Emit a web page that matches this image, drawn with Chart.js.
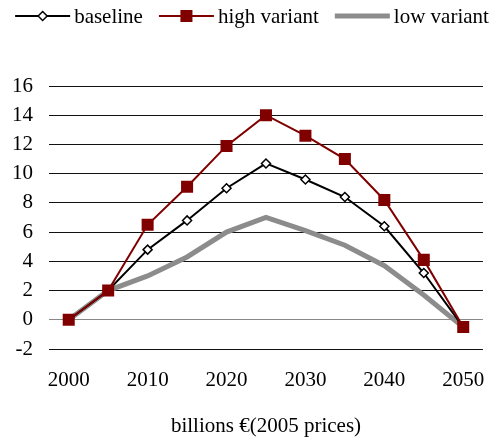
<!DOCTYPE html>
<html>
<head>
<title>Scenarios</title>
<script src="https://cdn.jsdelivr.net/npm/chart.js@4.4.0/dist/chart.umd.min.js"></script>
<style>
  html, body { margin: 0; padding: 0; background: #fff; }
  .wrap { width: 504px; height: 441px; }
</style>
</head>
<body>
<div class="wrap"><canvas id="chart" width="504" height="441"></canvas></div>
<script>
const years = ['2000', '2005', '2010', '2015', '2020', '2025', '2030', '2035', '2040', '2045', '2050'];
const baseline = [0, 2, 4.8, 6.8, 9.0, 10.7, 9.6, 8.4, 6.4, 3.2, -0.5];
const highVariant = [0, 2, 6.5, 9.1, 11.9, 14.0, 12.6, 11.0, 8.2, 4.1, -0.5];
const lowVariant = [0, 2, 3.0, 4.3, 6.0, 7.0, 6.1, 5.1, 3.7, 1.7, -0.5];
const yTicks = [-2, 0, 2, 4, 6, 8, 10, 12, 14, 16];
const axisTitle = 'billions €(2005 prices)';

const FONT = '"Liberation Serif", "Times New Roman", serif';
const FSIZE = 21;

// legend drawn as line + marker, like the spreadsheet original
const lineLegend = {
    id: 'lineLegend',
    afterDraw(chart) {
        const ctx = chart.ctx;
        const sets = chart.data.datasets;
        const swatch = 55, gap = 4, spacing = 16, y = 16;
        ctx.save();
        ctx.font = FSIZE + 'px ' + FONT;
        let total = 0;
        sets.forEach((ds, i) => {
            total += swatch + gap + ctx.measureText(ds.label).width + (i ? spacing : 0);
        });
        let x = (chart.width - total) / 2;
        sets.forEach(ds => {
            ctx.strokeStyle = ds.borderColor;
            ctx.lineWidth = ds.borderWidth;
            ctx.beginPath();
            ctx.moveTo(x, y);
            ctx.lineTo(x + swatch, y);
            ctx.stroke();
            const cx = x + swatch / 2;
            if (ds.pointStyle === 'rect' && ds.pointRadius > 0) {
                const s = ds.pointRadius * Math.SQRT1_2;
                ctx.fillStyle = ds.pointBackgroundColor;
                ctx.fillRect(cx - s, y - s, 2 * s, 2 * s);
            } else if (ds.pointStyle === 'rectRot' && ds.pointRadius > 0) {
                const r = ds.pointRadius;
                ctx.beginPath();
                ctx.moveTo(cx, y - r);
                ctx.lineTo(cx + r, y);
                ctx.lineTo(cx, y + r);
                ctx.lineTo(cx - r, y);
                ctx.closePath();
                ctx.fillStyle = ds.pointBackgroundColor;
                ctx.fill();
                ctx.lineWidth = ds.pointBorderWidth;
                ctx.strokeStyle = ds.pointBorderColor;
                ctx.stroke();
            }
            ctx.fillStyle = '#000';
            ctx.textBaseline = 'middle';
            ctx.textAlign = 'left';
            ctx.fillText(ds.label, x + swatch + gap, y + 1);
            x += swatch + gap + ctx.measureText(ds.label).width + spacing;
        });
        ctx.restore();
    }
};

new Chart(document.getElementById('chart'), {
    type: 'line',
    data: {
        labels: years,
        datasets: [
            {
                label: 'baseline',
                data: baseline,
                borderColor: '#000',
                borderWidth: 2,
                pointStyle: 'rectRot',
                pointRadius: 4.5,
                pointBackgroundColor: '#fff',
                pointBorderColor: '#000',
                pointBorderWidth: 1.5,
                tension: 0,
                order: 1
            },
            {
                label: 'high variant',
                data: highVariant,
                borderColor: '#800000',
                borderWidth: 2,
                pointStyle: 'rect',
                pointRadius: 8.5,
                pointBackgroundColor: '#800000',
                pointBorderColor: '#800000',
                pointBorderWidth: 0,
                tension: 0,
                order: 0
            },
            {
                label: 'low variant',
                data: lowVariant,
                borderColor: '#8c8c8c',
                borderWidth: 5,
                pointRadius: 0,
                tension: 0,
                order: 2
            }
        ]
    },
    options: {
        responsive: false,
        animation: false,
        devicePixelRatio: 1,
        layout: { padding: { top: 86, right: 17, bottom: 0, left: 0 } },
        plugins: {
            legend: { display: false },
            tooltip: { enabled: false }
        },
        scales: {
            x: {
                offset: true,
                grid: { display: false, drawTicks: false },
                border: { display: false },
                ticks: {
                    autoSkip: false,
                    maxRotation: 0,
                    padding: 19,
                    color: '#000',
                    font: { family: FONT, size: FSIZE },
                    callback: (v, i) => (i % 2 ? '' : years[i])
                },
                title: {
                    display: true,
                    text: axisTitle,
                    color: '#000',
                    font: { family: FONT, size: FSIZE },
                    padding: { top: 4, bottom: 2 }
                },
                afterFit: s => { s.height = 92; }
            },
            y: {
                min: yTicks[0],
                max: yTicks[yTicks.length - 1],
                afterBuildTicks: s => { s.ticks = yTicks.map(v => ({ value: v })); },
                grid: {
                    drawTicks: false,
                    color: c => (c.tick && c.tick.value === 0 ? '#888' : '#111'),
                    lineWidth: 1
                },
                border: { display: false },
                ticks: {
                    padding: 16,
                    color: '#000',
                    font: { family: FONT, size: FSIZE }
                },
                afterFit: s => { s.width = 49; }
            }
        }
    },
    plugins: [lineLegend]
});
</script>
</body>
</html>
